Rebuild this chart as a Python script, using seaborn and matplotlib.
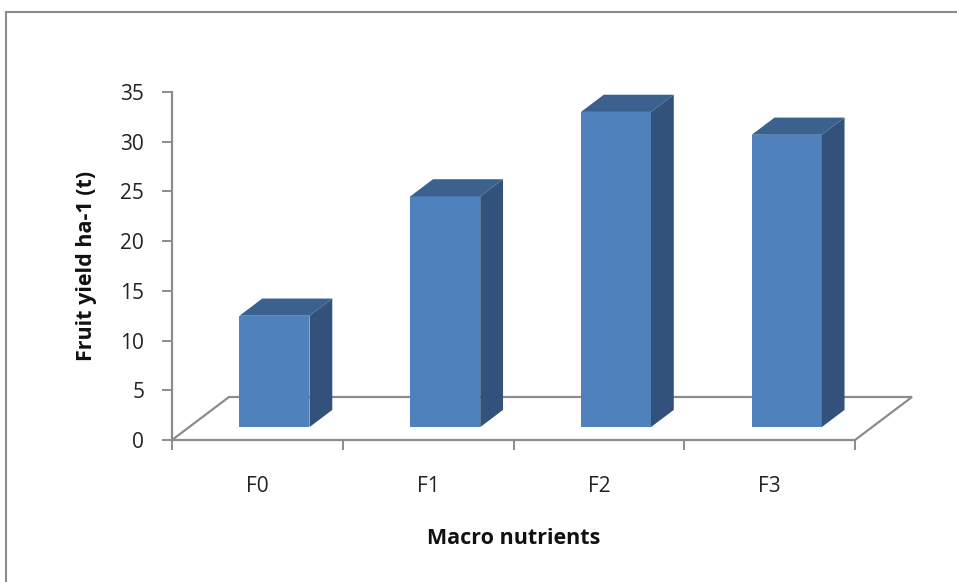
import matplotlib
matplotlib.use("Agg")
import matplotlib.pyplot as plt
from matplotlib.patches import Polygon, Rectangle
import seaborn as sns
import pandas as pd

# Data
categories = ["F0", "F1", "F2", "F3"]
fruit_yield = [11.2, 23.2, 31.7, 29.4]
y_ticks = [0, 5, 10, 15, 20, 25, 30, 35]

df = pd.DataFrame({"treatment": categories, "yield": fruit_yield})

sns.set_style("white")
plt.rcParams["font.family"] = ["Open Sans", "DejaVu Sans"]

W, H, DPI = 957, 582, 100
fig = plt.figure(figsize=(W / DPI, H / DPI), dpi=DPI)

# axes box: front-left corner of the floor to the top of the value axis
left_px, right_px, bottom_px, top_px = 172, 855, 440, 92
ax = fig.add_axes([left_px / W, 1 - bottom_px / H,
                   (right_px - left_px) / W, (bottom_px - top_px) / H])

front = "#4F81BD"
side = "#32527B"
top = "#3B618F"
grey = "#8C8C8C"
text_col = "#222222"

sns.barplot(data=df, x="treatment", y="yield", color=front, width=0.41,
            saturation=1, ax=ax, zorder=3, linewidth=0)

n = len(categories)
ax.set_xlim(-0.5, n - 0.5)
ax.set_ylim(0, y_ticks[-1])

# depth of the floor, in data units (oblique projection)
px_x = (right_px - left_px) / n
px_y = (bottom_px - top_px) / y_ticks[-1]
Dx, Dy = 57 / px_x, 43 / px_y

# floor
floor = Polygon([(-0.5, 0), (n - 0.5, 0), (n - 0.5 + Dx, Dy), (-0.5 + Dx, Dy)],
                closed=True, facecolor="white", edgecolor=grey, lw=1.6,
                clip_on=False, zorder=1)
ax.add_patch(floor)

# bars sit in the middle of the floor depth
f0, f1 = 0.3, 0.7
for p in list(ax.patches):
    if p is floor:
        continue
    x, w, h = p.get_x(), p.get_width(), p.get_height()
    x0, y0 = x + f0 * Dx, f0 * Dy
    p.set_x(x0)
    p.set_y(y0)
    p.set_clip_on(False)
    ddx, ddy = (f1 - f0) * Dx, (f1 - f0) * Dy
    ax.add_patch(Polygon([(x0 + w, y0), (x0 + w, y0 + h),
                          (x0 + w + ddx, y0 + h + ddy), (x0 + w + ddx, y0 + ddy)],
                         closed=True, facecolor=side, edgecolor="none",
                         clip_on=False, zorder=3))
    ax.add_patch(Polygon([(x0, y0 + h), (x0 + w, y0 + h),
                          (x0 + w + ddx, y0 + h + ddy), (x0 + ddx, y0 + h + ddy)],
                         closed=True, facecolor=top, edgecolor="none",
                         clip_on=False, zorder=3))

# axes styling
for s in ["top", "right", "bottom"]:
    ax.spines[s].set_visible(False)
ax.spines["left"].set_color(grey)
ax.spines["left"].set_linewidth(1.6)

ax.set_yticks(y_ticks)
ax.set_yticklabels([str(t) for t in y_ticks])
ax.tick_params(axis="y", direction="out", length=7, width=1.4, color=grey,
               pad=13, labelsize=15, labelcolor=text_col, left=True)

ax.set_xticks(range(n))
ax.set_xticklabels(categories)
ax.set_xticks([i - 0.5 for i in range(n + 1)], minor=True)
ax.tick_params(axis="x", which="major", length=0, pad=26, labelsize=15,
               labelcolor=text_col)
ax.tick_params(axis="x", which="minor", direction="out", length=7, width=1.4,
               color=grey, bottom=True)

ax.set_xlabel("Macro nutrients", fontsize=15.5, fontweight="bold",
              color="#111111", labelpad=22)
ax.set_ylabel("Fruit yield ha-1 (t)", fontsize=15.5, fontweight="bold",
              color="#111111", labelpad=17)

# outer chart frame
fig.patches.append(Rectangle((6 / W, -0.1), 1.2, 1 - 12 / H + 0.1,
                             transform=fig.transFigure, fill=False,
                             edgecolor=grey, lw=1.5))

fig.savefig("out.png", dpi=DPI)
